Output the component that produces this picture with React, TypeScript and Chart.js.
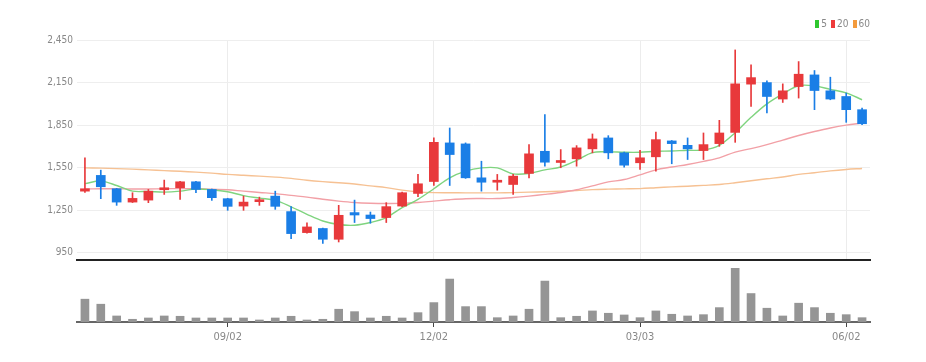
import React, { useEffect, useRef } from 'react';
import { Chart, registerables } from 'chart.js';
Chart.register(...registerables);

const FONT = "'Liberation Sans Narrow', 'DejaVu Sans Condensed', 'Roboto Condensed', 'Liberation Sans', sans-serif";

const dates = [
  '07/01', '07/08', '07/15', '07/22', '07/29', '08/05', '08/12', '08/19', '08/26', '09/02',
  '09/09', '09/16', '09/23', '09/30', '10/07', '10/14', '10/21', '10/28', '11/04', '11/11',
  '11/18', '11/25', '12/02', '12/09', '12/16', '12/23', '12/30', '01/06', '01/13', '01/20',
  '01/27', '02/03', '02/10', '02/17', '02/24', '03/03', '03/10', '03/17', '03/24', '03/31',
  '04/07', '04/14', '04/21', '04/28', '05/05', '05/12', '05/19', '05/26', '06/02', '06/09',
];
const tickLabels = ['09/02', '12/02', '03/03', '06/02'];
const priceTicks = [950, 1250, 1550, 1850, 2150, 2450];

const opens = [
  1385, 1496, 1402, 1308, 1322, 1395, 1409, 1451, 1397, 1332,
  1280, 1311, 1350, 1241, 1093, 1122, 1046, 1234, 1217, 1199,
  1280, 1369, 1453, 1725, 1718, 1479, 1448, 1432, 1510, 1666,
  1587, 1613, 1683, 1760, 1655, 1585, 1627, 1739, 1708, 1671,
  1720, 1799, 2139, 2150, 2034, 2122, 2204, 2092, 2052, 1959,
];
const highs = [
  1620, 1533, 1405, 1374, 1397, 1463, 1455, 1455, 1400, 1335,
  1350, 1343, 1385, 1276, 1161, 1125, 1285, 1322, 1238, 1304,
  1378, 1503, 1760, 1830, 1725, 1596, 1503, 1503, 1713, 1924,
  1678, 1706, 1788, 1776, 1660, 1673, 1802, 1742, 1760, 1795,
  1884, 2380, 2275, 2162, 2141, 2298, 2235, 2188, 2076, 1971,
];
const lows = [
  1376, 1332, 1285, 1305, 1304, 1362, 1327, 1374, 1320, 1250,
  1250, 1285, 1257, 1051, 1089, 1016, 1027, 1164, 1159, 1164,
  1276, 1346, 1425, 1425, 1475, 1385, 1392, 1362, 1479, 1561,
  1550, 1561, 1655, 1613, 1554, 1538, 1526, 1578, 1608, 1608,
  1701, 1729, 1982, 1936, 2010, 2041, 1959, 2029, 1870, 1853,
];
const closes = [
  1402, 1416, 1308, 1334, 1385, 1406, 1451, 1397, 1339, 1278,
  1308, 1325, 1278, 1086, 1133, 1046, 1215, 1217, 1192, 1276,
  1374, 1437, 1729, 1643, 1479, 1448, 1460, 1491, 1648, 1589,
  1601, 1690, 1753, 1655, 1568, 1620, 1748, 1720, 1683, 1713,
  1795, 2141, 2185, 2052, 2092, 2209, 2094, 2034, 1959, 1860,
];
const ma5 = [
  1438, 1456, 1425, 1385, 1383, 1378, 1385, 1400, 1395, 1381,
  1354, 1336, 1320, 1275, 1222, 1175, 1150, 1145, 1164, 1199,
  1269, 1327, 1402, 1479, 1526, 1549, 1549, 1507, 1510, 1535,
  1555, 1602, 1657, 1662, 1659, 1659, 1666, 1668, 1673, 1675,
  1708, 1797, 1905, 2000, 2070, 2128, 2127, 2102, 2078, 2029,
];
const ma20 = [
  1400, 1402, 1402, 1400, 1400, 1402, 1403, 1402, 1398, 1395,
  1385, 1376, 1368, 1355, 1343, 1328, 1315, 1305, 1300, 1298,
  1299, 1305, 1315, 1325, 1332, 1333, 1333, 1340, 1350, 1362,
  1376, 1395, 1422, 1450, 1467, 1500, 1535, 1555, 1573, 1595,
  1620, 1660, 1685, 1713, 1745, 1777, 1805, 1830, 1850, 1865,
];
const ma60 = [
  1549, 1547, 1544, 1540, 1535, 1530, 1525, 1519, 1512, 1503,
  1497, 1491, 1484, 1475, 1462, 1452, 1444, 1435, 1422, 1410,
  1392, 1380, 1375, 1374, 1373, 1373, 1373, 1375, 1378, 1381,
  1385, 1390, 1396, 1399, 1401, 1403, 1409, 1415, 1420, 1426,
  1432, 1444, 1458, 1472, 1485, 1503, 1515, 1528, 1538, 1545,
];
const volumes = [
  227, 177, 60, 27, 40, 60, 57, 40, 40, 40,
  40, 20, 40, 57, 20, 27, 127, 103, 40, 57,
  40, 93, 193, 427, 153, 153, 43, 60, 127, 407,
  43, 57, 110, 87, 70, 43, 110, 77, 60, 73,
  143, 537, 283, 137, 60, 187, 143, 87, 73, 43,
];

const UP = '#e8393b';
const DOWN = '#1a7ee6';
const C5 = '#7fd47f';
const C20 = '#f2a0a6';
const C60 = '#f6c193';

const tickIdx = tickLabels.map((t) => dates.indexOf(t));

export default function App() {
  const topRef = useRef<HTMLCanvasElement>(null);
  const botRef = useRef<HTMLCanvasElement>(null);

  useEffect(() => {
    const colors = opens.map((o, i) => (closes[i] >= o ? UP : DOWN));
    const top = new Chart(topRef.current as HTMLCanvasElement, {
      type: 'bar',
      data: {
        labels: dates,
        datasets: [
          {
            type: 'bar',
            label: 'body',
            data: opens.map((o, i) => [o, closes[i]]) as any,
            backgroundColor: colors,
            barThickness: 9,
            grouped: false,
            minBarLength: 2,
            order: 0,
          } as any,
          {
            type: 'bar',
            label: 'wick',
            data: lows.map((l, i) => [l, highs[i]]) as any,
            backgroundColor: colors,
            barThickness: 1,
            grouped: false,
            order: 1,
          } as any,
          { type: 'line', label: '5', data: ma5, borderColor: C5, borderWidth: 1.4, pointRadius: 0, tension: 0.35, order: 2 } as any,
          { type: 'line', label: '20', data: ma20, borderColor: C20, borderWidth: 1.4, pointRadius: 0, tension: 0.35, order: 3 } as any,
          { type: 'line', label: '60', data: ma60, borderColor: C60, borderWidth: 1.4, pointRadius: 0, tension: 0.35, order: 4 } as any,
        ],
      },
      options: {
        animation: false,
        responsive: false,
        maintainAspectRatio: false,
        events: [],
        layout: { padding: { left: 0, right: 56, top: 40, bottom: 9 } },
        plugins: { legend: { display: false }, tooltip: { enabled: false } },
        scales: {
          x: {
            offset: true,
            grid: { offset: false, color: '#ececec', drawTicks: false },
            border: { color: '#222', width: 2 },
            ticks: { display: false, autoSkip: false },
            afterBuildTicks: (s: any) => {
              s.ticks = tickIdx.map((v) => ({ value: v }));
            },
            afterFit: (s: any) => {
              s.height = 0;
            },
          },
          y: {
            min: 900,
            max: 2450,
            afterBuildTicks: (s: any) => {
              s.ticks = priceTicks.map((v) => ({ value: v }));
            },
            grid: { color: '#eeeeee', drawTicks: false },
            border: { display: false },
            ticks: {
              padding: 4,
              color: '#888',
              font: { family: FONT, size: 10 },
              callback: (v: any) => Number(v).toLocaleString('en-US'),
            },
            afterFit: (s: any) => {
              s.width = 77;
            },
          },
        },
      } as any,
    });

    const bot = new Chart(botRef.current as HTMLCanvasElement, {
      type: 'bar',
      data: {
        labels: dates,
        datasets: [
          {
            label: 'volume',
            data: volumes,
            backgroundColor: '#959595',
            barThickness: 8,
          },
        ],
      },
      options: {
        animation: false,
        responsive: false,
        maintainAspectRatio: false,
        events: [],
        layout: { padding: { left: 77, right: 56, top: 6, bottom: 10 } },
        plugins: { legend: { display: false }, tooltip: { enabled: false } },
        scales: {
          x: {
            offset: true,
            grid: { offset: false, drawOnChartArea: false, drawTicks: true, tickLength: 5, color: '#444' },
            border: { color: '#666', width: 2 },
            ticks: {
              autoSkip: false,
              maxRotation: 0,
              padding: 4,
              color: '#888',
              font: { family: FONT, size: 11 },
            },
            afterBuildTicks: (s: any) => {
              s.ticks = tickIdx.map((v) => ({ value: v }));
            },
            afterFit: (s: any) => {
              s.height = 30;
            },
          },
          y: { display: false, min: 0, max: 537 },
        },
      } as any,
    });

    return () => {
      top.destroy();
      bot.destroy();
    };
  }, []);

  const legendItem = (color: string, text: string) => (
    <span style={{ display: 'inline-flex', alignItems: 'center', marginLeft: 4 }}>
      <span style={{ display: 'inline-block', width: 4, height: 8, background: color, marginRight: 2 }} />
      <span>{text}</span>
    </span>
  );

  return (
    <div style={{ position: 'fixed', left: 0, top: 0, width: 926, height: 362, background: '#fff', overflow: 'hidden' }}>
      <canvas ref={topRef} width={926} height={270} style={{ position: 'absolute', left: 0, top: 0, width: 926, height: 270 }} />
      <canvas ref={botRef} width={926} height={100} style={{ position: 'absolute', left: 0, top: 262, width: 926, height: 100 }} />
      <div
        style={{
          position: 'absolute',
          right: 56,
          top: 18,
          fontFamily: FONT,
          fontSize: 10,
          color: '#888',
          lineHeight: '12px',
          display: 'flex',
        }}
      >
        {legendItem('#2ec72e', '5')}
        {legendItem('#ee3b3b', '20')}
        {legendItem('#f39a3c', '60')}
      </div>
    </div>
  );
}
